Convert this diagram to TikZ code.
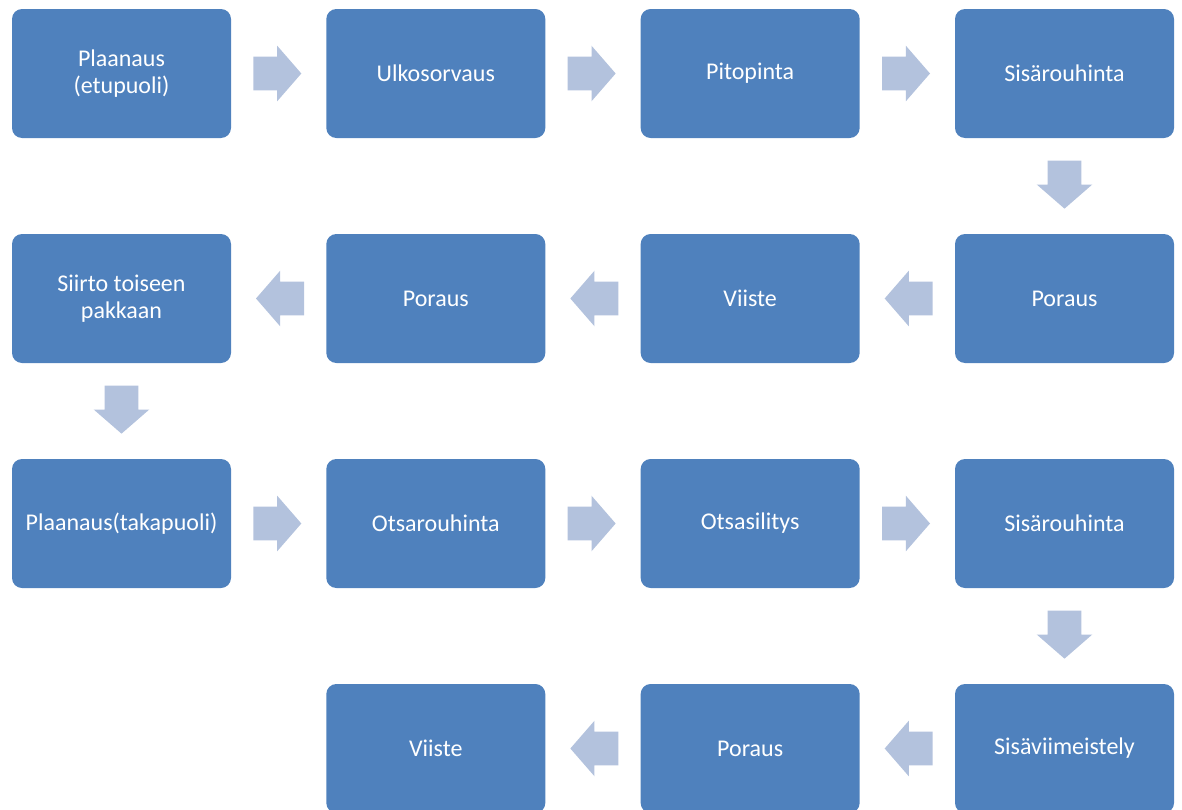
\documentclass[tikz,border=0pt]{standalone}
\usepackage{fontspec}
\setmainfont{Carlito}
\usetikzlibrary{positioning, shapes.arrows, calc}
\definecolor{boxblue}{HTML}{4F81BD}
\definecolor{arrowblue}{HTML}{B3C2DD}

\begin{document}
\begin{tikzpicture}[
      x=0.75pt, y=-0.75pt,
      node distance=72pt and 71.5pt,
      stepbox/.style={
          fill=boxblue, rectangle, rounded corners=7.5pt,
          minimum width=164.25pt, minimum height=96.75pt,
          align=center, text=white, inner sep=2pt, outer sep=0pt,
          font=\fontsize{18}{20}\selectfont
        },
      flowarrow/.style={
          single arrow, fill=arrowblue, draw=none, anchor=tail,
          inner xsep=0pt, inner ysep=12.375pt, outer sep=0pt,
          minimum height=36pt,
          single arrow head extend=8.25pt, single arrow tip angle=98
        }
    ]
    \useasboundingbox (0,0) rectangle (1182,810);

    % -- Row 1 (left to right) --
    \node[stepbox] (plf) at (121.5,73.5) {Plaanaus\\(etupuoli)};
    \node[stepbox, right=of plf] (ulk)  {Ulkosorvaus};
    \node[stepbox, right=of ulk] (pito) {Pitopinta};
    \node[stepbox, right=of pito] (sisa) {Sisärouhinta};

    % -- Row 2 (right to left) --
    \node[stepbox, below=of sisa] (pora) {Poraus};
    \node[stepbox, left=of pora]  (viia) {Viiste};
    \node[stepbox, left=of viia]  (porb) {Poraus};
    \node[stepbox, left=of porb]  (siir) {Siirto toiseen\\pakkaan};

    % -- Row 3 (left to right) --
    \node[stepbox, below=of siir] (plt)  {Plaanaus(takapuoli)};
    \node[stepbox, right=of plt]  (otsr) {Otsarouhinta};
    \node[stepbox, right=of otsr] (otss) {Otsasilitys};
    \node[stepbox, right=of otss] (sisb) {Sisärouhinta};

    % -- Row 4 (right to left) --
    \node[stepbox, below=of sisb] (sisv) {Sisäviimeistely};
    \node[stepbox, left=of sisv]  (porc) {Poraus};
    \node[stepbox, left=of porc]  (viib) {Viiste};

    % -- Block arrows between steps --
    \foreach \a/\b/\r in {plf/ulk/0, ulk/pito/0, pito/sisa/0, sisa/pora/-90,
        pora/viia/180, viia/porb/180, porb/siir/180, siir/plt/-90,
        plt/otsr/0, otsr/otss/0, otss/sisb/0, sisb/sisv/-90,
        sisv/porc/180, porc/viib/180}
      \node[flowarrow, rotate=\r] (\a-\b) at ($(\a)!0.5!(\b)!19pt!(\a)$) {};

  \end{tikzpicture}
\end{document}
